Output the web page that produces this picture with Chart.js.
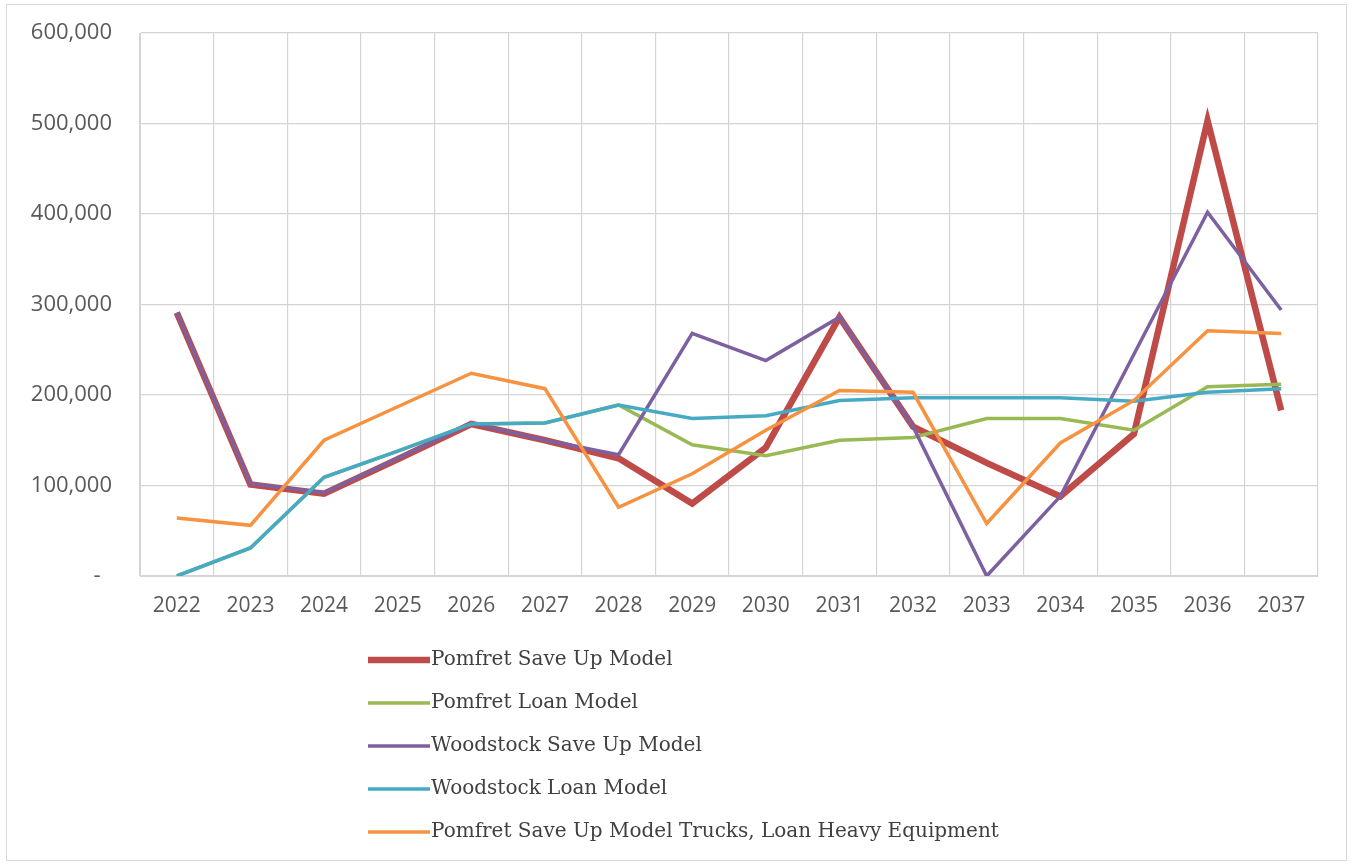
<!DOCTYPE html>
<html>
<head>
<meta charset="utf-8">
<script src="https://cdn.jsdelivr.net/npm/chart.js@4"></script>
<style>
  body { margin: 0; background: #fff; }
  #frame { position: absolute; left: 6px; top: 4px; width: 1339px; height: 855px; border: 1px solid #d9d9d9; }
  #wrap { position: absolute; left: 0; top: 0; width: 1351px; height: 865px; }
</style>
</head>
<body>
<div id="frame"></div>
<div id="wrap"><canvas id="myChart"></canvas></div>
<script>
let years = ["2022", "2023", "2024", "2025", "2026", "2027", "2028", "2029",
             "2030", "2031", "2032", "2033", "2034", "2035", "2036", "2037"];

let pomfretSaveUp   = [291000, 101000, 91000, 129000, 168000, 150000, 130000, 80000,
                       142000, 286000, 165000, 125000, 88000, 157000, 503000, 183000];
let pomfretLoan     = [0, 31000, 109000, 138000, 168000, 169000, 189000, 145000,
                       133000, 150000, 153000, 174000, 174000, 161000, 209000, 212000];
let woodstockSaveUp = [291000, 102000, 92000, 130000, 169000, 150000, 134000, 268000,
                       238000, 286000, 165000, 0, 88000, 245000, 402000, 294000];
let woodstockLoan   = [0, 31000, 109000, 138000, 168000, 169000, 189000, 174000,
                       177000, 194000, 197000, 197000, 197000, 193000, 203000, 207000];
let pomfretTrucks   = [64000, 56000, 150000, 187000, 224000, 207000, 76000, 113000,
                       161000, 205000, 203000, 58000, 147000, 194000, 271000, 268000];

let yTicks = [0, 100000, 200000, 300000, 400000, 500000, 600000];

// legend drawn as a stacked list under the plot, like the original
let stackedLegend = {
  id: 'stackedLegend',
  afterDraw(chart) {
    let ctx = chart.ctx;
    ctx.save();
    ctx.font = '20px "DejaVu Serif", "Liberation Serif", serif';
    ctx.textBaseline = 'middle';
    chart.data.datasets.forEach((ds, i) => {
      let y = 660 + i * 43;
      ctx.strokeStyle = ds.borderColor;
      ctx.lineWidth = ds.borderWidth;
      ctx.beginPath();
      ctx.moveTo(368, y);
      ctx.lineTo(430, y);
      ctx.stroke();
      ctx.fillStyle = '#404040';
      ctx.fillText(ds.label, 431, y);
    });
    ctx.restore();
  }
};

let myChart = document.getElementById('myChart').getContext('2d');

let lineChart = new Chart(myChart, {
  type: 'line',
  data: {
    labels: years,
    datasets: [{
        data: pomfretSaveUp,
        label: "Pomfret Save Up Model",
        borderColor: "#be4b48",
        borderWidth: 6.5,
        order: 5
      }, {
        data: pomfretLoan,
        label: "Pomfret Loan Model",
        borderColor: "#98b954",
        borderWidth: 3.5,
        order: 4
      }, {
        data: woodstockSaveUp,
        label: "Woodstock Save Up Model",
        borderColor: "#7d60a0",
        borderWidth: 3.5,
        order: 3
      }, {
        data: woodstockLoan,
        label: "Woodstock Loan Model",
        borderColor: "#46aac5",
        borderWidth: 3.5,
        order: 2
      }, {
        data: pomfretTrucks,
        label: "Pomfret Save Up Model Trucks, Loan Heavy Equipment",
        borderColor: "#f69240",
        borderWidth: 3.5,
        order: 1
      }
    ]
  },
  options: {
    responsive: true,
    maintainAspectRatio: false,
    animation: false,
    layout: { padding: { top: 33, right: 33, left: 0, bottom: 0 } },
    elements: {
      point: { radius: 0, hoverRadius: 0 },
      line: { tension: 0, fill: false, borderCapStyle: 'butt', borderJoinStyle: 'miter' }
    },
    plugins: {
      legend: { display: false },
      tooltip: { enabled: false }
    },
    scales: {
      x: {
        offset: true,
        grid: { offset: true, color: '#d4d4d4', lineWidth: 1.2, drawTicks: false },
        border: { color: '#d4d4d4' },
        ticks: { color: '#595959', padding: 17, font: { family: '"Open Sans", sans-serif', size: 21 }, maxRotation: 0 },
        afterFit(scale) { scale.height = 289; scale.paddingLeft = 0; scale.paddingRight = 0; }
      },
      y: {
        min: 0,
        max: 600000,
        afterBuildTicks(scale) { scale.ticks = yTicks.map(v => ({ value: v })); },
        grid: { color: '#d4d4d4', lineWidth: 1.2, drawTicks: false },
        border: { color: '#d4d4d4' },
        ticks: {
          color: '#595959',
          padding: 28,
          font: { family: '"Open Sans", sans-serif', size: 22 },
          callback: v => v === 0 ? '-  ' : v.toLocaleString('en-US')
        },
        afterFit(scale) { scale.width = 140; scale.paddingTop = 0; scale.paddingBottom = 0; }
      }
    }
  },
  plugins: [stackedLegend]
});
</script>
</body>
</html>
